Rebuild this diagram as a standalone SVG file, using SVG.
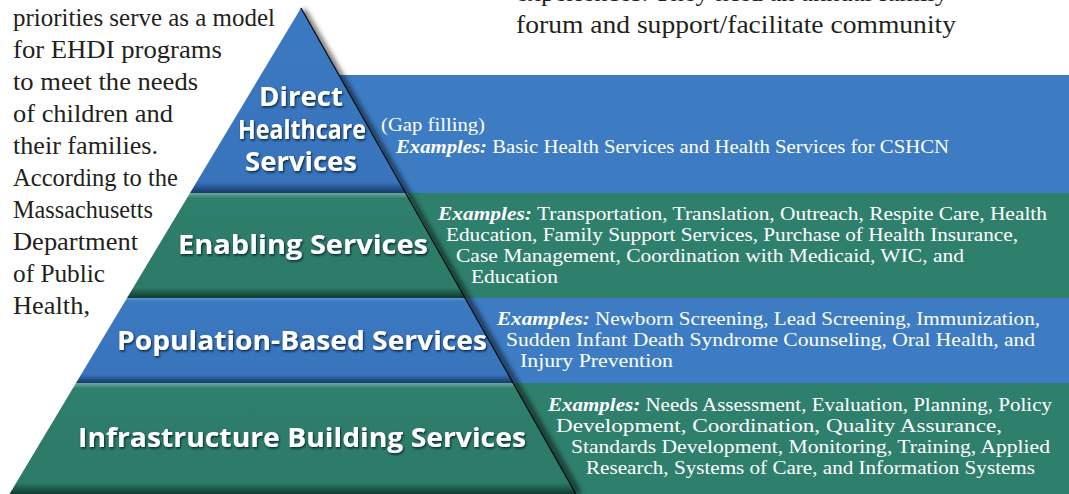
<svg xmlns="http://www.w3.org/2000/svg" width="1069" height="494" viewBox="0 0 1069 494">
<style>
.body{font-family:"Liberation Serif","Times New Roman",serif;font-size:26px;fill:#231f20}
.ex{font-family:"Liberation Serif","Times New Roman",serif;font-size:19.5px;fill:#ffffff}
.ex .b{font-weight:bold;font-style:italic}
.lbl{font-family:"Open Sans","Liberation Sans",sans-serif;font-weight:bold;font-size:27px;fill:#ffffff;text-anchor:middle;filter:url(#ts)}
.pb{fill:#3d7cc3}
.pg{fill:#2f7f6d}
</style>
<defs>
<filter id="ts" x="-10%" y="-30%" width="120%" height="160%">
<feDropShadow dx="1" dy="1.5" stdDeviation="1" flood-color="#06182a" flood-opacity="0.85"/>
</filter>
<filter id="blur" x="-20%" y="-5%" width="140%" height="110%"><feGaussianBlur stdDeviation="2.5"/></filter>
<linearGradient id="gb" x1="0" y1="0" x2="0" y2="1">
<stop offset="0" stop-color="#5e96d6"/><stop offset="0.04" stop-color="#3b79c1"/><stop offset="0.9" stop-color="#3874bb"/><stop offset="1" stop-color="#143a68"/>
</linearGradient>
<linearGradient id="gb1" x1="0" y1="0" x2="0" y2="1">
<stop offset="0" stop-color="#3b79c1"/><stop offset="0.94" stop-color="#3874bb"/><stop offset="1" stop-color="#143a68"/>
</linearGradient>
<linearGradient id="gg" x1="0" y1="0" x2="0" y2="1">
<stop offset="0" stop-color="#6fa99a"/><stop offset="0.05" stop-color="#2f7f6d"/><stop offset="0.9" stop-color="#2c7a68"/><stop offset="1" stop-color="#0f3a30"/>
</linearGradient>
</defs>
<rect width="1069" height="494" fill="#ffffff"/>
<g id="body-text">
<text class="body" x="516" y="1" textLength="432" lengthAdjust="spacingAndGlyphs">experiences. They hold an annual family</text>
<text class="body" x="516" y="33" textLength="440" lengthAdjust="spacingAndGlyphs">forum and support/facilitate community</text>
<text class="body" x="13" y="26" textLength="262" lengthAdjust="spacingAndGlyphs">priorities serve as a model</text>
<text class="body" x="13" y="58" textLength="209" lengthAdjust="spacingAndGlyphs">for EHDI programs</text>
<text class="body" x="13" y="90" textLength="185" lengthAdjust="spacingAndGlyphs">to meet the needs</text>
<text class="body" x="13" y="122" textLength="160" lengthAdjust="spacingAndGlyphs">of children and</text>
<text class="body" x="13" y="154" textLength="145" lengthAdjust="spacingAndGlyphs">their families.</text>
<text class="body" x="13" y="186" textLength="165" lengthAdjust="spacingAndGlyphs">According to the</text>
<text class="body" x="13" y="218" textLength="140" lengthAdjust="spacingAndGlyphs">Massachusetts</text>
<text class="body" x="13" y="250" textLength="125" lengthAdjust="spacingAndGlyphs">Department</text>
<text class="body" x="13" y="282" textLength="92" lengthAdjust="spacingAndGlyphs">of Public</text>
<text class="body" x="13" y="314" textLength="77" lengthAdjust="spacingAndGlyphs">Health,</text>
</g>
<g id="panels">
<rect class="pb" x="330" y="75" width="739" height="118"/>
<rect class="pg" x="380" y="193" width="689" height="105"/>
<rect class="pb" x="440" y="298" width="629" height="85"/>
<rect class="pg" x="490" y="383" width="579" height="111"/>
</g>
<path d="M303,10 L579,494" stroke="#000" stroke-width="6" opacity="0.55" filter="url(#blur)" fill="none"/>
<g id="direct">
<polygon points="301,8 407,193 190,193" fill="url(#gb1)"/>
<text class="lbl" x="301" y="106" textLength="84" lengthAdjust="spacingAndGlyphs">Direct</text>
<text class="lbl" x="302" y="139" textLength="128" lengthAdjust="spacingAndGlyphs">Healthcare</text>
<text class="lbl" x="301" y="171" textLength="112" lengthAdjust="spacingAndGlyphs">Services</text>
<text class="ex" x="381" y="131" textLength="104" lengthAdjust="spacingAndGlyphs">(Gap filling)</text>
<text class="ex" x="396" y="153" textLength="553" lengthAdjust="spacingAndGlyphs"><tspan class="b">Examples:</tspan> Basic Health Services and Health Services for CSHCN</text>
</g>
<g id="enabling">
<polygon points="190,193 407,193 466,298 127,298" fill="url(#gg)"/>
<text class="lbl" x="303" y="254" textLength="250" lengthAdjust="spacingAndGlyphs">Enabling Services</text>
<text class="ex" x="438" y="220" textLength="609" lengthAdjust="spacingAndGlyphs"><tspan class="b">Examples:</tspan> Transportation, Translation, Outreach, Respite Care, Health</text>
<text class="ex" x="446" y="241" textLength="572" lengthAdjust="spacingAndGlyphs">Education, Family Support Services, Purchase of Health Insurance,</text>
<text class="ex" x="456" y="262" textLength="508" lengthAdjust="spacingAndGlyphs">Case Management, Coordination with Medicaid, WIC, and</text>
<text class="ex" x="471" y="283" textLength="87" lengthAdjust="spacingAndGlyphs">Education</text>
</g>
<g id="population">
<polygon points="127,298 466,298 514,383 76,383" fill="url(#gb)"/>
<text class="lbl" x="302" y="350" textLength="370" lengthAdjust="spacingAndGlyphs">Population-Based Services</text>
<text class="ex" x="497" y="325" textLength="543" lengthAdjust="spacingAndGlyphs"><tspan class="b">Examples:</tspan> Newborn Screening, Lead Screening, Immunization,</text>
<text class="ex" x="506" y="346" textLength="529" lengthAdjust="spacingAndGlyphs">Sudden Infant Death Syndrome Counseling, Oral Health, and</text>
<text class="ex" x="520" y="367" textLength="153" lengthAdjust="spacingAndGlyphs">Injury Prevention</text>
</g>
<g id="infrastructure">
<polygon points="76,383 514,383 576,494 9.5,494" fill="url(#gg)"/>
<text class="lbl" x="302" y="447" textLength="448" lengthAdjust="spacingAndGlyphs">Infrastructure Building Services</text>
<text class="ex" x="548" y="411" textLength="504" lengthAdjust="spacingAndGlyphs"><tspan class="b">Examples:</tspan> Needs Assessment, Evaluation, Planning, Policy</text>
<text class="ex" x="556" y="432" textLength="446" lengthAdjust="spacingAndGlyphs">Development, Coordination, Quality Assurance,</text>
<text class="ex" x="571" y="453" textLength="479" lengthAdjust="spacingAndGlyphs">Standards Development, Monitoring, Training, Applied</text>
<text class="ex" x="586" y="474" textLength="449" lengthAdjust="spacingAndGlyphs">Research, Systems of Care, and Information Systems</text>
</g>
<path d="M301,8 L576,494" stroke="#0a0a0a" stroke-width="1.3" fill="none"/>
<g id="connectors"/>
</svg>
